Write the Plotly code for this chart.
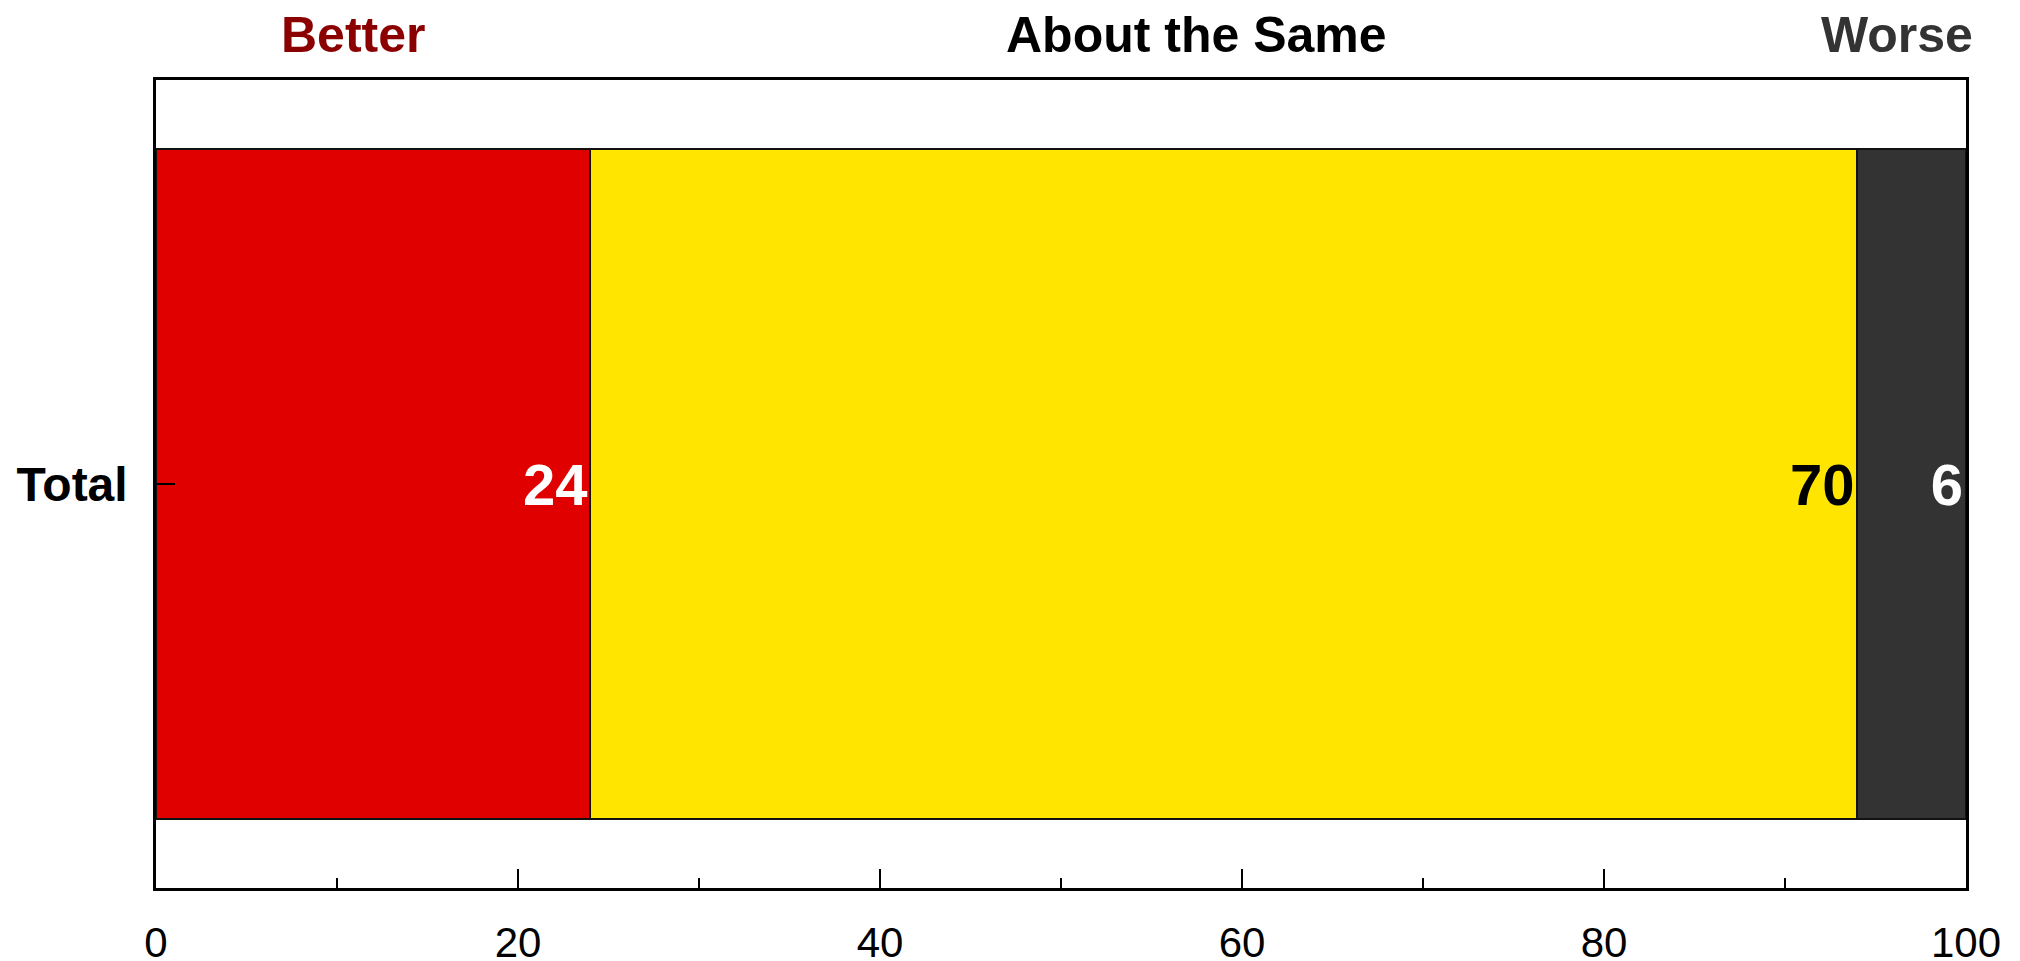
import plotly.graph_objects as go

categories = ["Total"]
series_names = ["Better", "About the Same", "Worse"]
better = [24]
same = [70]
worse = [6]
bar_colors = ["#E00000", "#FFE500", "#333333"]
text_colors = ["#FFFFFF", "#000000", "#FFFFFF"]
header_colors = ["#8B0000", "#000000", "#333333"]
header_x = [10.9, 57.5, 96.2]
x_ticks = [0, 20, 40, 60, 80, 100]

FONT = "Arial, Liberation Sans, sans-serif"

fig = go.Figure()
for name, vals, bc, tc in zip(series_names, [better, same, worse], bar_colors, text_colors):
    fig.add_trace(go.Bar(
        y=categories, x=vals, name=name, orientation="h",
        marker=dict(color=bc, line=dict(color="#111111", width=2)),
        text=[str(v) for v in vals], textposition="inside",
        insidetextanchor="end", textangle=0,
        textfont=dict(family=FONT, size=58, color=tc, weight="bold"),
        cliponaxis=False,
    ))

for name, hx, hc in zip(series_names, header_x, header_colors):
    fig.add_annotation(
        x=hx, xref="x", y=1, yref="paper", yshift=45,
        text=f"<b>{name}</b>", showarrow=False,
        font=dict(family=FONT, size=50, color=hc),
        xanchor="center", yanchor="middle",
    )

fig.update_layout(
    width=2020, height=961,
    barmode="stack", bargap=0.17,
    showlegend=False,
    plot_bgcolor="white", paper_bgcolor="white",
    margin=dict(l=156, r=54, t=80, b=73),
)
fig.update_xaxes(
    range=[0, 100], tickvals=x_ticks, ticktext=[str(t) for t in x_ticks],
    ticks="inside", ticklen=19, tickwidth=1.5, tickcolor="black",
    minor=dict(dtick=10, ticks="inside", ticklen=10, tickwidth=1.5, tickcolor="black"),
    showgrid=False, zeroline=False,
    showline=True, linecolor="black", linewidth=2.5, mirror=True,
    tickfont=dict(family=FONT, size=42, color="black"),
    ticklabelstandoff=16, automargin=False,
)
fig.update_yaxes(
    range=[-0.5, 0.5],
    ticks="inside", ticklen=19, tickwidth=1.5, tickcolor="black",
    showgrid=False, zeroline=False,
    showline=True, linecolor="black", linewidth=2.5, mirror=True,
    tickfont=dict(family=FONT, size=48, color="black", weight="bold"),
    ticklabelstandoff=16, automargin=False,
)

fig.write_html(
    "out.html",
    config={"displayModeBar": False},
    post_script="document.body.style.margin='0';document.body.style.overflow='hidden';",
)
